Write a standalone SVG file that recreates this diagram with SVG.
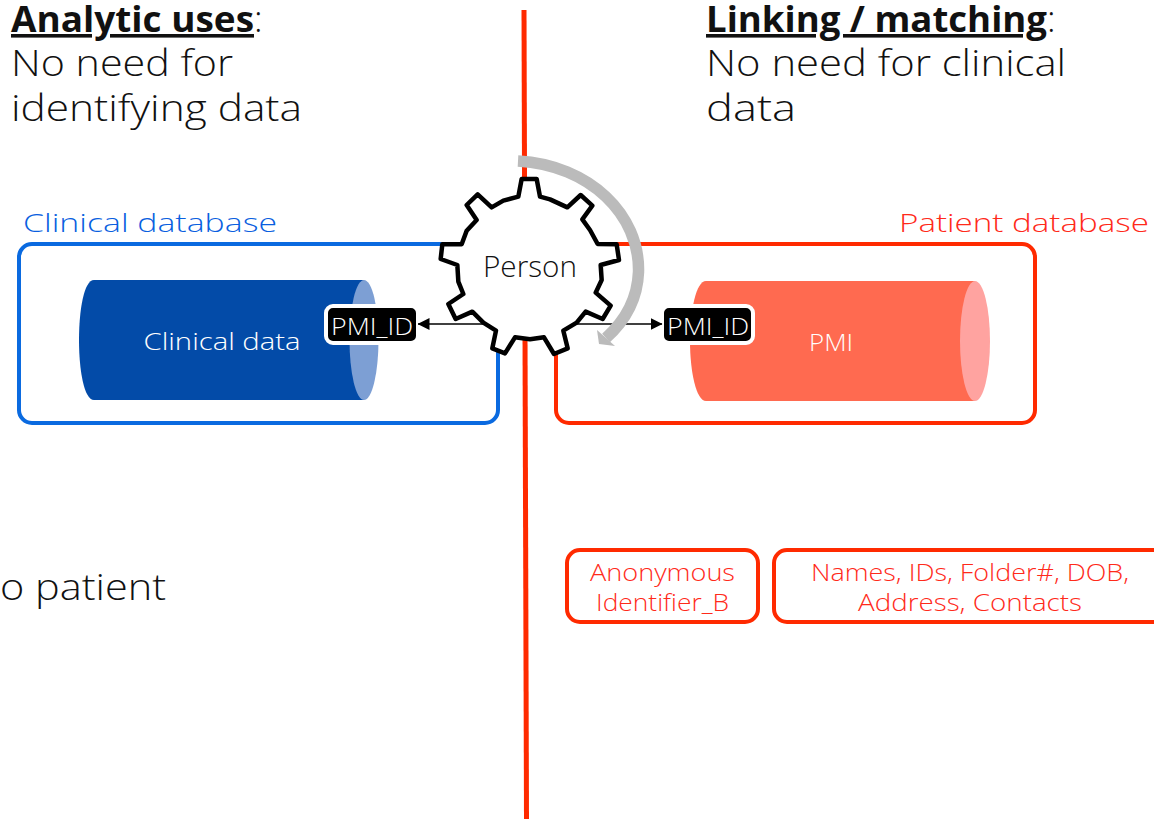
<svg xmlns="http://www.w3.org/2000/svg" width="1154" height="819" viewBox="0 0 1154 819">
<defs>
<style>
text{font-family:"Open Sans","Liberation Sans",sans-serif;fill:#111;font-weight:300}
.h{font-size:36px;font-weight:700;text-decoration:underline}
.b{font-size:36px}
.m{text-anchor:middle}
.lb{font-size:26.5px}
.red{fill:#ff2a1a;font-size:24px;text-anchor:middle}
.w{fill:#fff;font-size:24px;text-anchor:middle}
.tag{fill:#000;stroke:#fff;stroke-width:4}
.ln{stroke:#000;stroke-width:1.5;fill:none;marker-end:url(#ah)}
</style>
<marker id="ah" viewBox="0 0 12 12" refX="11.500" refY="6" markerWidth="12" markerHeight="12" markerUnits="userSpaceOnUse" orient="auto"><path d="M0 0L12 6L0 12Z" fill="#000"/></marker>
</defs>
<rect width="1154" height="819" fill="#fff"/>
<g id="divider"><path d="M524 10L526.500 819" stroke="#ff2a00" stroke-width="5" fill="none"/></g>
<g id="heading-left">
<text x="11" y="32" class="h" textLength="243" lengthAdjust="spacingAndGlyphs">Analytic uses</text><text x="254" y="32" class="b">:</text>
<text x="11" y="76" class="b" textLength="222" lengthAdjust="spacingAndGlyphs">No need for</text>
<text x="11" y="121" class="b" textLength="291" lengthAdjust="spacingAndGlyphs">identifying data</text>
</g>
<g id="heading-right">
<text x="706" y="32" class="h" textLength="341" lengthAdjust="spacingAndGlyphs">Linking / matching</text><text x="1047" y="32" class="b">:</text>
<text x="706" y="76" class="b" textLength="360" lengthAdjust="spacingAndGlyphs">No need for clinical</text>
<text x="706" y="121" class="b" textLength="90" lengthAdjust="spacingAndGlyphs">data</text>
</g>
<g id="clinical-database">
<rect x="19" y="244" width="479" height="179" rx="13" fill="none" stroke="#0a6ae0" stroke-width="4"/>
<text x="23" y="232" class="lb" style="fill:#0a5fe0" textLength="254" lengthAdjust="spacingAndGlyphs">Clinical database</text>
</g>
<g id="patient-database">
<rect x="556" y="244" width="479" height="179" rx="13" fill="none" stroke="#ff2a00" stroke-width="4"/>
<text x="899" y="232" class="lb" style="fill:#ff2a1a" textLength="250" lengthAdjust="spacingAndGlyphs">Patient database</text>
</g>
<g id="clinical-data">
<path d="M364 280H94C84 280 79 310 79 340C79 370 84 400 94 400H364Z" fill="#034ba8"/>
<ellipse cx="364" cy="340" rx="14.500" ry="60" fill="#7d9fd4"/>
<text x="222" y="350" class="w" textLength="157" lengthAdjust="spacingAndGlyphs">Clinical data</text>
</g>
<g id="pmi">
<path d="M975 281H706C696 281 690 311 690 341C690 371 696 401 706 401H975Z" fill="#ff6a50"/>
<ellipse cx="975" cy="341" rx="15" ry="60" fill="#ffa3a0"/>
<text x="831" y="351" class="w" textLength="44" lengthAdjust="spacingAndGlyphs">PMI</text>
</g>
<g id="pmi-tag-left">
<rect x="326" y="306" width="92" height="37" rx="7" class="tag"/>
<text x="372" y="335" class="w" textLength="82" lengthAdjust="spacingAndGlyphs">PMI_ID</text>
</g>
<g id="pmi-tag-right">
<rect x="662" y="306" width="91" height="37" rx="7" class="tag"/>
<text x="708" y="335" class="w" textLength="82" lengthAdjust="spacingAndGlyphs">PMI_ID</text>
</g>
<g id="connectors">
<path d="M495 324H418" class="ln"/>
<path d="M565 324H662" class="ln"/>
</g>
<g id="person">
<polygon transform="translate(420 140) scale(.33333)" fill="#fff" stroke="#000" stroke-width="13.500" stroke-linejoin="round" points="305,117 350,117 360,170 390,178 442,202 482,165 517,197 487,238 510,270 533,312 590,313 597,360 542,375 545,420 527,458 572,497 548,537 497,515 470,548 430,572 443,625 402,642 372,592 330,598 285,592 255,640 217,625 228,572 190,548 157,515 107,537 85,492 130,462 115,425 112,375 62,357 67,313 125,313 140,272 170,240 140,195 173,163 215,202 250,182 295,170"/>
<text x="530" y="277" class="m" style="font-size:29px" textLength="94" lengthAdjust="spacingAndGlyphs">Person</text>
</g>
<g id="rotation-arrow">
<path d="M518 161C590 165 640 215 638.500 272C637.500 298 626 320 606 338" fill="none" stroke="#bbb" stroke-width="11.500"/>
<polygon points="597,330 615,346 599,344" fill="#bbb"/>
</g>
<g id="bottom-left-text"><text x="0" y="600" class="b" textLength="166" lengthAdjust="spacingAndGlyphs">o patient</text></g>
<g id="anonymous-identifier">
<rect x="567" y="550" width="191" height="72" rx="13" fill="none" stroke="#ff2a00" stroke-width="4"/>
<text x="662.500" y="581" class="red" textLength="145" lengthAdjust="spacingAndGlyphs">Anonymous</text>
<text x="662.500" y="611" class="red" textLength="133" lengthAdjust="spacingAndGlyphs">Identifier_B</text>
</g>
<g id="identifiers">
<rect x="774" y="550" width="400" height="72" rx="13" fill="none" stroke="#ff2a00" stroke-width="4"/>
<text x="970" y="581" class="red" textLength="318" lengthAdjust="spacingAndGlyphs">Names, IDs, Folder#, DOB,</text>
<text x="970" y="611" class="red" textLength="224" lengthAdjust="spacingAndGlyphs">Address, Contacts</text>
</g>
</svg>
